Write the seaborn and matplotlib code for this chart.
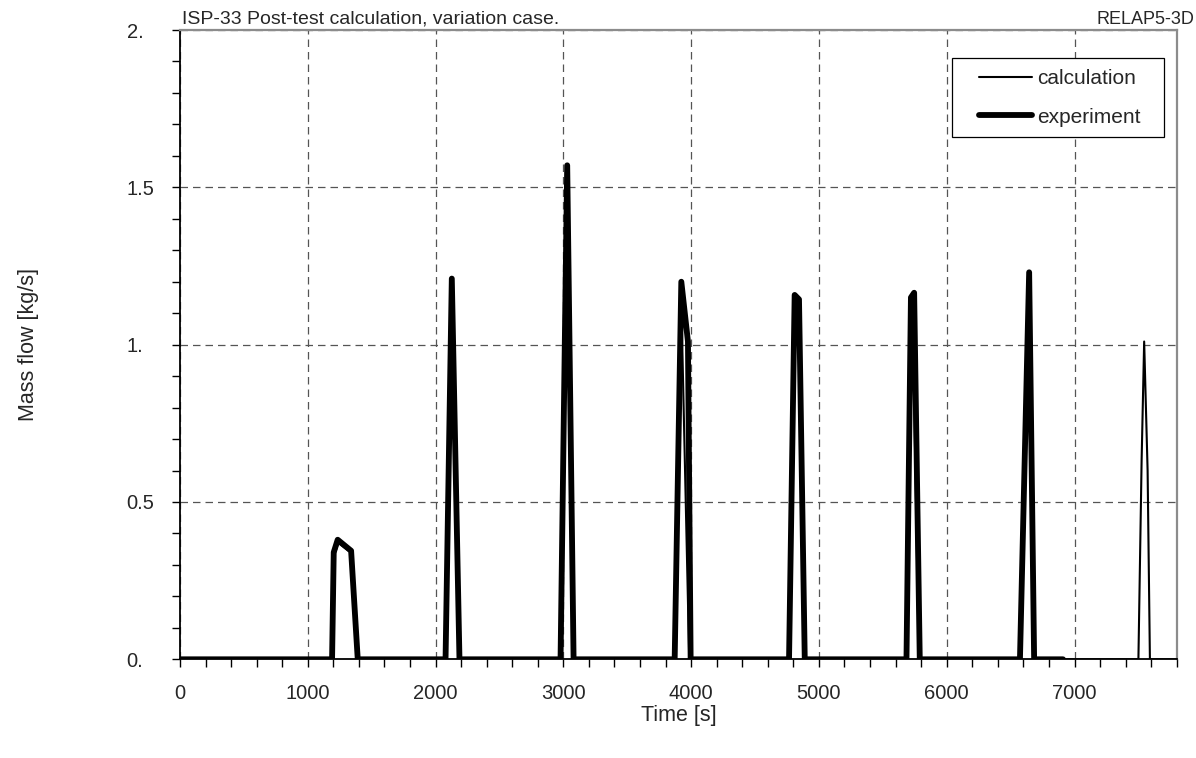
import matplotlib
matplotlib.use("Agg")
import matplotlib.pyplot as plt
from matplotlib.ticker import MultipleLocator, FixedLocator, FixedFormatter
from matplotlib.patches import Rectangle
import seaborn as sns
import pandas as pd

# Mass flow through the break line, ISP-33 variation case
exp_time = [0, 1190, 1203, 1234, 1339, 1391, 2078, 2127, 2187, 2978, 3030, 3080,
            3871, 3923, 3975, 3996, 4766, 4810, 4844, 4889, 5685, 5720, 5745, 5789,
            6573, 6645, 6684, 6910]
exp_flow = [0, 0, 0.34, 0.38, 0.345, 0, 0, 1.21, 0, 0, 1.57, 0,
            0, 1.20, 1.01, 0, 0, 1.158, 1.144, 0, 0, 1.15, 1.165, 0,
            0, 1.23, 0, 0]

calc_time = [0, 1195, 1208, 1238, 1335, 1385, 2085, 2127, 2180, 2985, 3030, 3072,
             3878, 3920, 3985, 4772, 4810, 4844, 4882, 5690, 5730, 5782,
             6580, 6640, 6678, 7500, 7525, 7545, 7572, 7590, 7800]
calc_flow = [0, 0, 0.33, 0.37, 0.34, 0, 0, 1.20, 0, 0, 1.56, 0,
             0, 1.19, 0, 0, 1.15, 1.14, 0, 0, 1.16, 0,
             0, 1.22, 0, 0, 0.63, 1.01, 0.60, 0, 0]

x_ticks = [0, 1000, 2000, 3000, 4000, 5000, 6000, 7000]
y_ticks = [0.0, 0.5, 1.0, 1.5, 2.0]
y_tick_labels = ["0.", "0.5", "1.", "1.5", "2."]

W, H = 1196, 758

sns.set_style("ticks")
plt.rcParams["font.family"] = ["Liberation Sans", "DejaVu Sans"]

fig = plt.figure(figsize=(W / 100, H / 100), dpi=100)
ax = fig.add_axes([0.1505, 0.1302, 0.8334, 0.8302])

exp_df = pd.DataFrame({"t": exp_time, "m": exp_flow})
calc_df = pd.DataFrame({"t": calc_time, "m": calc_flow})

sns.lineplot(data=exp_df, x="t", y="m", ax=ax, color="black", linewidth=4.2,
             estimator=None, sort=False, label="experiment", zorder=3)
sns.lineplot(data=calc_df, x="t", y="m", ax=ax, color="black", linewidth=1.5,
             estimator=None, sort=False, label="calculation", zorder=4)

ax.set_xlim(0, 7800)
ax.set_ylim(0, 2.0)

ax.xaxis.set_major_locator(FixedLocator(x_ticks))
ax.xaxis.set_minor_locator(MultipleLocator(200))
ax.yaxis.set_major_locator(FixedLocator(y_ticks))
ax.yaxis.set_major_formatter(FixedFormatter(y_tick_labels))
ax.yaxis.set_minor_locator(MultipleLocator(0.1))

ax.tick_params(axis="both", which="both", direction="out", length=5.5,
               width=1.0, color="black", labelsize=14.5)
ax.tick_params(axis="x", which="major", pad=12)
ax.tick_params(axis="y", which="major", pad=33)
for lab in ax.get_yticklabels():
    lab.set_horizontalalignment("left")

ax.grid(True, which="major", color="#555555", linestyle=(0, (6, 4)), linewidth=0.9)
ax.set_axisbelow(True)

for side in ("left", "bottom"):
    ax.spines[side].set_color("black")
    ax.spines[side].set_linewidth(1.3)
for side in ("top", "right"):
    ax.spines[side].set_visible(True)
    ax.spines[side].set_color("#8c8c8c")
    ax.spines[side].set_linewidth(1.6)

ax.set_xlabel("Time [s]", fontsize=15.5, labelpad=2)
ax.set_ylabel("Mass flow [kg/s]", fontsize=15.5, labelpad=63)

# legend entries without frame, boxed by a separate rectangle
handles, labels = ax.get_legend_handles_labels()
order = [labels.index("calculation"), labels.index("experiment")]
leg = ax.legend([handles[i] for i in order], [labels[i] for i in order],
                loc="upper left", bbox_to_anchor=(979 / W, 1 - 69 / H),
                bbox_transform=fig.transFigure, fontsize=15, frameon=False,
                handlelength=2.55, handletextpad=0.24, labelspacing=0.95,
                borderpad=0, borderaxespad=0)
box = Rectangle((951.7 / W, 1 - 136.7 / H), (1164 - 951.7) / W, (136.7 - 58.3) / H,
                transform=fig.transFigure, facecolor="white", edgecolor="black",
                linewidth=0.9, zorder=5)
ax.add_artist(box)
box.set_clip_on(False)
leg.set_zorder(6)

fig.text(182 / W, 1 - 19 / H, "ISP-33 Post-test calculation, variation case.",
         fontsize=14, ha="left", va="center")
fig.text(1194 / W, 1 - 19 / H, "RELAP5-3D", fontsize=13, ha="right", va="center")

fig.savefig("out.png", dpi=100, facecolor="white")
